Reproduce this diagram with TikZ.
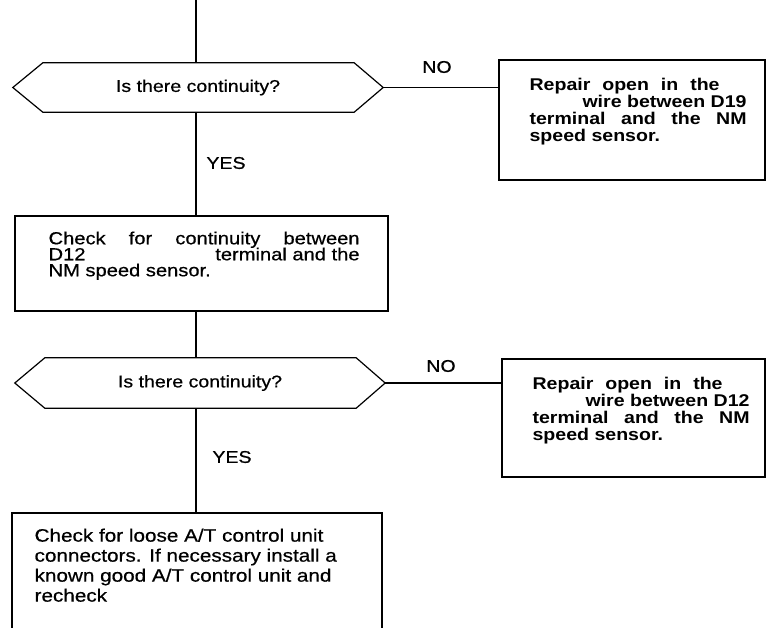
\documentclass[tikz,border=0pt]{standalone}
\usepackage{fontspec}
\setmainfont{Liberation Sans}[FakeStretch=1.15, UprightFeatures={FakeBold=0.6}]
\usetikzlibrary{positioning}
\tikzset{
  link/.style={line width=1.2pt},
  checkbox/.style={draw, line width=1.2pt, rectangle, inner sep=0pt},
  hexbox/.style={rectangle, inner sep=0pt, font=\fontsize{17}{17}\selectfont},
  boxtext/.style={inner sep=0pt, align=justify,
    execute at begin node={\lineskiplimit=-10pt},
    font=\fontsize{17.5}{16}\selectfont},
  repairtext/.style={boxtext, text width=217pt,
    font=\bfseries\fontsize{17}{17}\selectfont},
  plaintext/.style={boxtext, text width=330pt,
    font=\fontsize{18}{20}\selectfont},
  answer/.style={inner sep=0pt, font=\fontsize{17}{17}\selectfont}
}
\begin{document}
\begin{tikzpicture}[x=1pt, y=1pt]
  \useasboundingbox (0,0) rectangle (766,-627);
  \clip (0,0) rectangle (766,-627);
  \coordinate (spine) at (196,0);
  \node[hexbox, minimum width=370pt, minimum height=49pt] (d1) at (198,-87.5) {Is there continuity?};
  \node[checkbox, minimum width=266pt, minimum height=120pt] (r1) at (632,-120) {};
  \node[checkbox, minimum width=373pt, minimum height=95pt] (b2) at (201.5,-263.5) {};
  \node[hexbox, minimum width=370pt, minimum height=50pt] (d2) at (200,-383) {Is there continuity?};
  \node[checkbox, minimum width=263pt, minimum height=118pt] (r2) at (633.5,-418) {};
  \node[checkbox, minimum width=370pt, minimum height=127pt] (b3) at (197,-576.5) {};
  \foreach \d in {d1,d2}
    \draw[link] (\d.west) -- ([xshift=30pt]\d.north west) -- ([xshift=-29pt]\d.north east)
      -- (\d.east) -- ([xshift=-29pt]\d.south east) -- ([xshift=30pt]\d.south west) -- cycle;
  \node[repairtext, below right=19pt and 31pt of r1.north west] (r1txt)
    {Repair\hfill open\hfill in\hfill the\hspace*{27pt}\\
     \hspace*{\fill}wire between D19\\
     terminal\hfill and\hfill the\hfill NM\\
     speed sensor.};
  \node[boxtext, text width=311pt, below right=16pt and 34pt of b2.north west] (b2txt)
    {Check\hfill for\hfill continuity\hfill between\\
     D12\hfill terminal and the\\
     NM speed sensor.};
  \node[repairtext, below right=19pt and 31pt of r2.north west] (r2txt)
    {Repair\hfill open\hfill in\hfill the\hspace*{27pt}\\
     \hspace*{\fill}wire between D12\\
     terminal\hfill and\hfill the\hfill NM\\
     speed sensor.};
  \node[plaintext, below right=16pt and 23pt of b3.north west] (b3txt)
    {Check for loose A/T control unit\\
     connectors. If necessary install a\\
     known good A/T control unit and\\
     recheck};
  \node[answer] (no1) at (437,-67) {NO};
  \node[answer] (yes1) at (226,-163) {YES};
  \node[answer] (no2) at (441,-366) {NO};
  \node[answer] (yes2) at (232,-457) {YES};
  \draw[link] (spine) -- (spine |- d1.north);
  \draw[link] (d1.east) -- (r1.west |- d1.east);
  \draw[link] (d1.south -| spine) -- (b2.north -| spine);
  \draw[link] (b2.south -| spine) -- (d2.north -| spine);
  \draw[link] (d2.east) -- (r2.west |- d2.east);
  \draw[link] (d2.south -| spine) -- (b3.north -| spine);
\end{tikzpicture}
\end{document}
